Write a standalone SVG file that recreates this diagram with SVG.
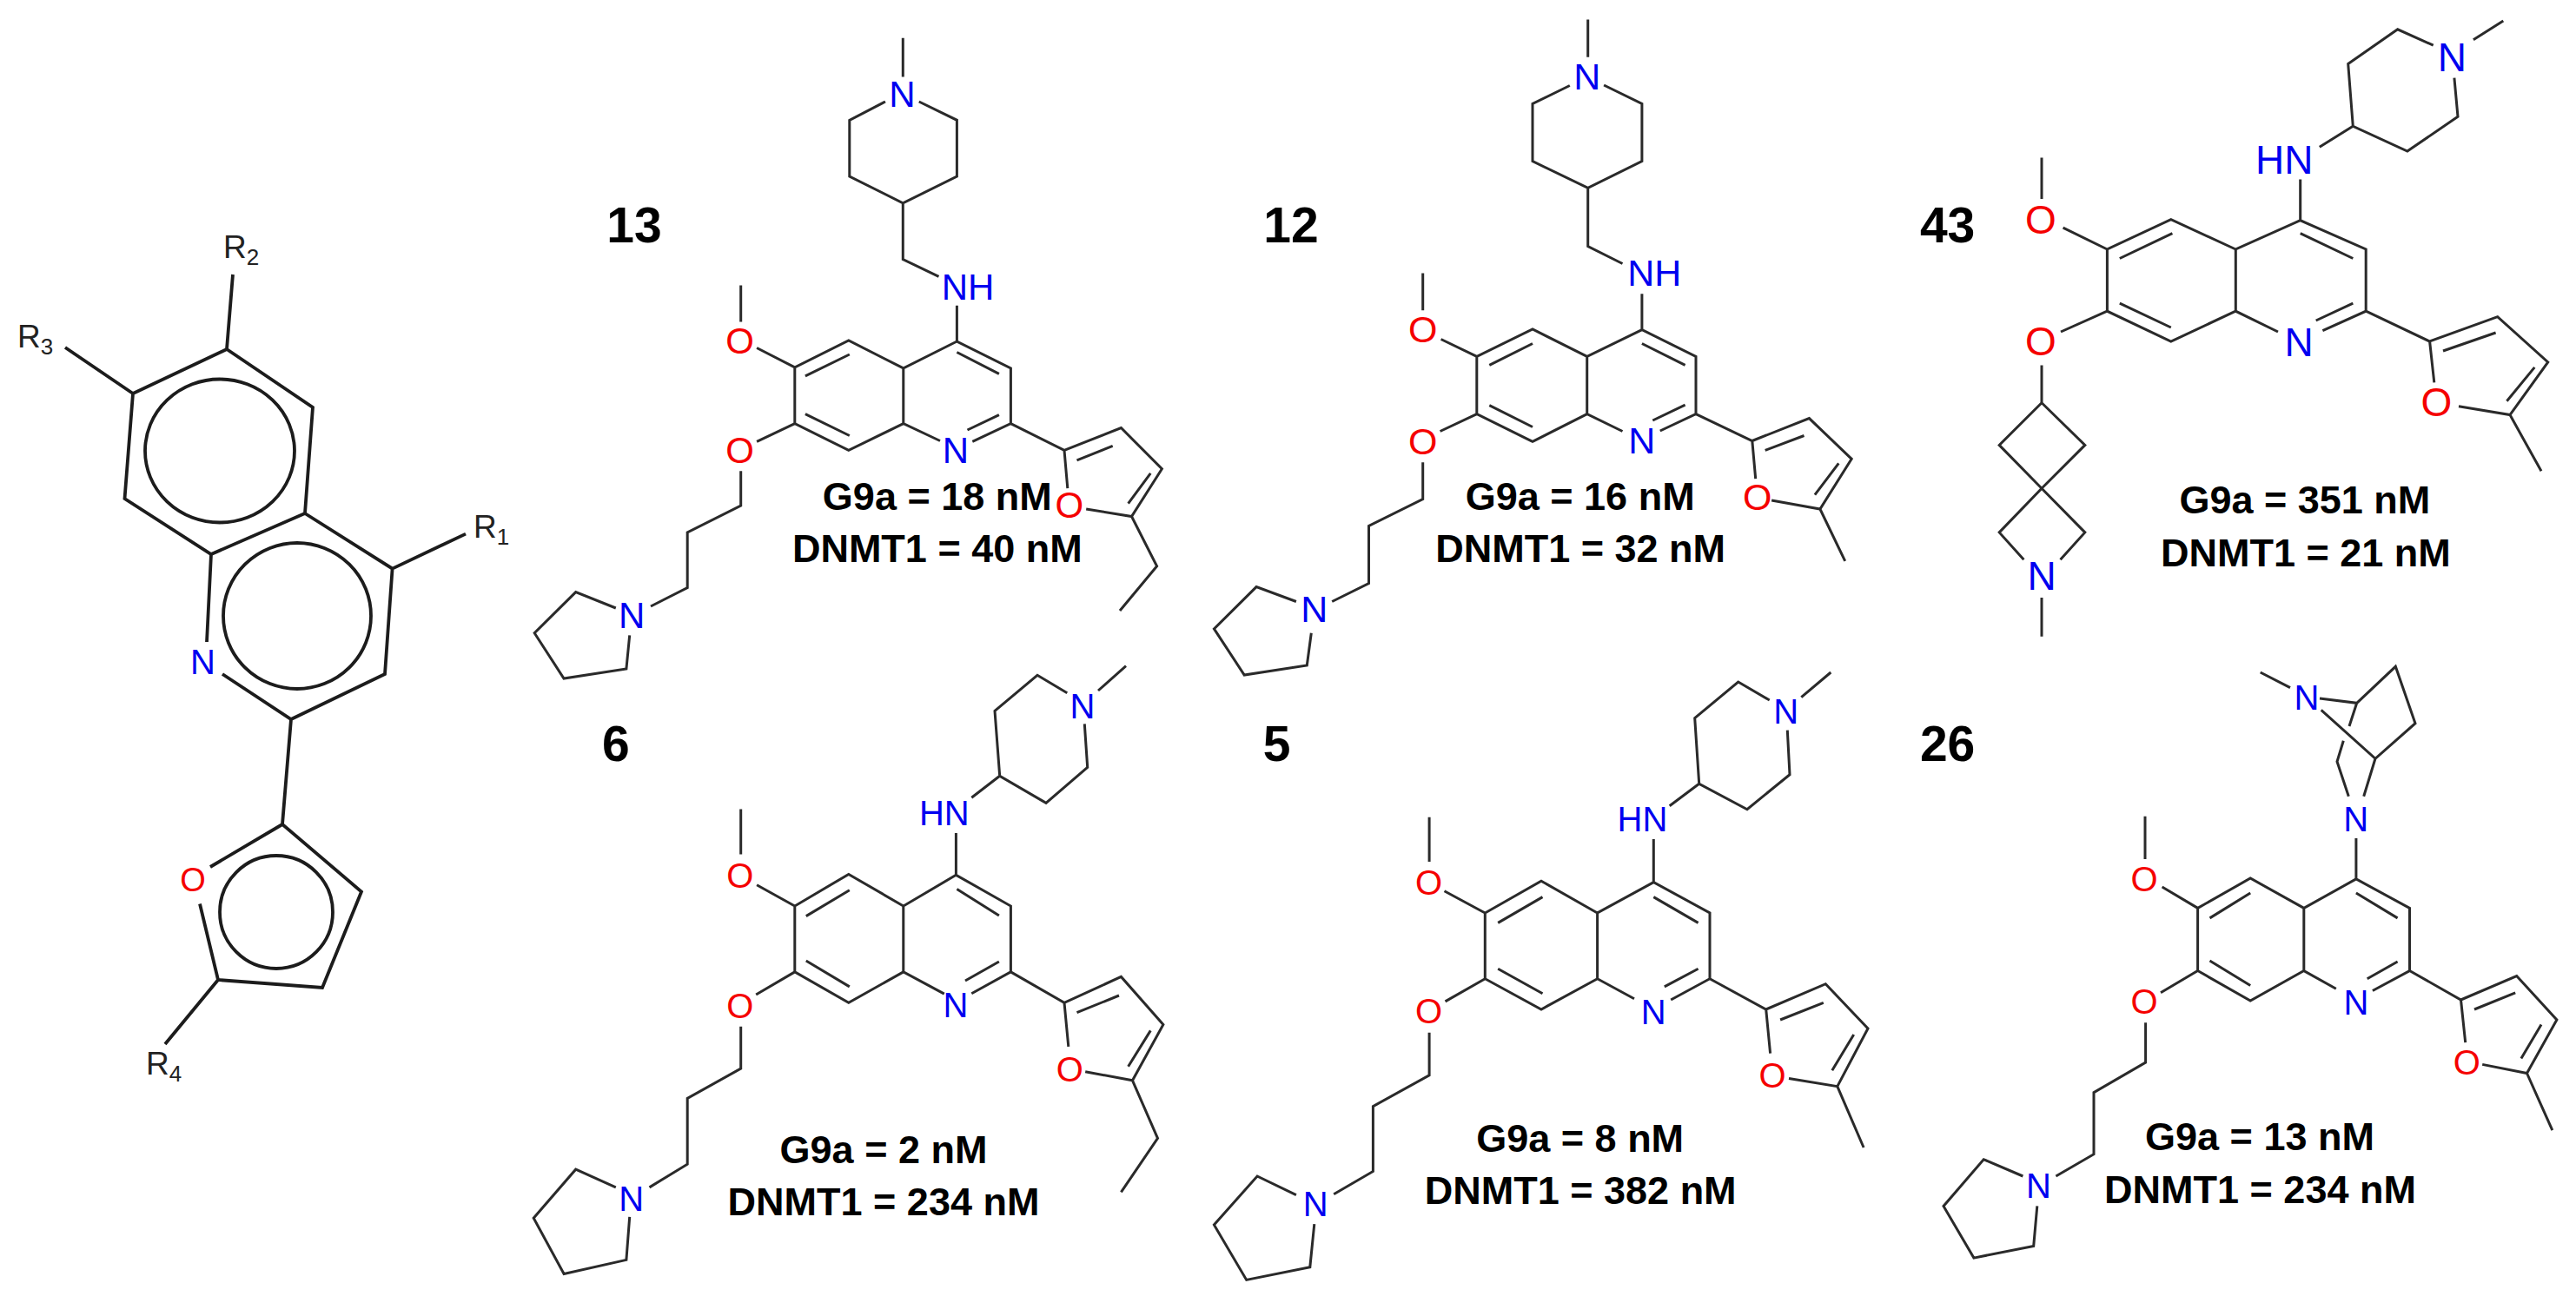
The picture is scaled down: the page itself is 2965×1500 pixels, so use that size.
<svg xmlns="http://www.w3.org/2000/svg" width="2965" height="1500" viewBox="0 0 2965 1500">
<style>
text{font-family:"Liberation Sans",Arial,sans-serif}
.bond{fill:none;stroke:#2a2a2a;stroke-width:3;stroke-linecap:butt;stroke-linejoin:miter}
.scaffold{stroke:#1c1c1c;stroke-width:3.8}
.a{text-anchor:middle}
.n{fill:#0000f0}
.o{fill:#f50000}
.r{fill:#222;font-size:37px}
.r tspan{font-size:26px}
.v{font-size:45px;font-weight:bold;text-anchor:middle;fill:#000}
.id{font-size:57px;font-weight:bold;text-anchor:middle;fill:#000}
</style>
<rect width="2965" height="1500" fill="#fff"/>

<g id="scaffold">
<path class="bond scaffold" d="M268 316L261 402M75 400L153 453M261 402L360 469L351 591L243 638L143.5 574L153 453L261 402M351 591L451.6 654.6L443 776L335 828L256 776M243 638L238 739M451.6 654.6L536 614.6M335 828L325 949L416 1026.500L371 1137L251 1128L230 1040.500M325 949L242 998M251 1128L190 1202"/>
<ellipse class="bond scaffold" cx="253" cy="519" rx="86" ry="82.500"/>
<ellipse class="bond scaffold" cx="342" cy="709" rx="85" ry="84"/>
<ellipse class="bond scaffold" cx="318" cy="1050" rx="65" ry="65"/>
<text class="a n" x="233.500" y="776" font-size="40">N</text>
<text class="a o" x="222" y="1026" font-size="38">O</text>
<text class="r" x="257" y="297">R<tspan dy="8">2</tspan></text>
<text class="r" x="20" y="400">R<tspan dy="8">3</tspan></text>
<text class="r" x="545" y="619">R<tspan dy="8">1</tspan></text>
<text class="r" x="168" y="1237">R<tspan dy="8">4</tspan></text>
</g>

<g id="compound-13" font-size="42">
<path class="bond" d="M1039.300 43.800V88.600M1019 117L977.800 138.300V203L1039.300 233.800L1101.400 203V138.300L1057.800 117M1039.300 233.800V298.500L1080.500 318.400M1101.400 351.700V393L1163.400 423.900V487.600L1119.300 508.400M1082 507.500L1039.800 487.600V423.900L1101.400 393M1039.800 423.900L976.800 392L914.800 422.900V487.600L976.800 518.400L1039.800 487.600M1101.400 405.500L1149.900 430.300M1149.900 477.600L1113.500 495M977.800 408L926.900 432.800M926.900 476.600L977.800 501.500M852.700 328.400V370.600M871.100 400.500L914.800 422.900M871.100 508.400L914.800 487.600M852.700 542.300V582L791.200 612.900V676.600L749 698M708.800 700L662.700 681.600L615.200 728.800L649 781L720.900 770L724.700 731.300M1163.400 487.600L1225 518.400L1290.400 492.500L1337.400 539.800L1302.500 594.500L1250.200 586M1225 518.400L1228.800 562.200M1239.500 529.800L1280.700 513.400M1324.300 544.800L1298.600 579.600M1302.500 594.500L1331.600 651.700L1289 703"/>
<text class="a n" x="1038.400" y="123.400">N</text>
<text class="a n" x="1114" y="344.800">NH</text>
<text class="a n" x="1100" y="533">N</text>
<text class="a o" x="851.700" y="407">O</text>
<text class="a o" x="851.700" y="533">O</text>
<text class="a n" x="727.200" y="722.900">N</text>
<text class="a o" x="1230.800" y="596">O</text>
<text class="id" x="730" y="279">13</text>
<text class="v" x="1078.800" y="587">G9a = 18 nM</text>
<text class="v" x="1078.800" y="646.800">DNMT1 = 40 nM</text>
</g>

<g id="compound-12" font-size="43">
<path class="bond" d="M1827.700 22.400V65.700M1806.800 98.500L1764 119.400V185.600L1827.700 216.400L1889.900 185.600V119.400L1846.100 98M1827.700 216.400V283.600L1867.500 303.500M1889.900 338.300V379.600L1952 410.400V476.600L1910.800 496M1867.500 496.500L1826.700 476.600V410.400L1889.900 379.600M1826.700 410.400L1764 379L1699.800 410.400V476.600L1764 508.400L1826.700 476.600M1889.900 395.500L1939.600 420.400M1939.600 466.200L1902.300 484M1764 395.500L1714.300 420.400M1714.300 466.700L1764 491.500M1637.700 314.400V357.200M1658.600 390.500L1699.800 410.400M1657.600 496.500L1699.800 476.600M1637.700 532.300V574.600L1575.500 605.500V671.600L1533.200 692.500M1491.900 692.500L1446.100 675.600L1397.400 723.900L1432.200 777L1504.300 766L1509.300 728.800M1952 476.600L2016.800 507.500L2082.400 481.600L2131.200 528.300L2094.900 586L2039.100 576M2016.800 507.500L2020.700 551.200M2031.700 518.400L2076.500 501.500M2116.300 533.300L2088.900 569.600M2094.900 586L2123.700 645.800"/>
<text class="a n" x="1826.700" y="103">N</text>
<text class="a n" x="1904.300" y="329.300">NH</text>
<text class="a n" x="1889.900" y="522.400">N</text>
<text class="a o" x="1637.700" y="394">O</text>
<text class="a o" x="1637.700" y="523.400">O</text>
<text class="a n" x="1512.800" y="716.400">N</text>
<text class="a o" x="2022.700" y="587">O</text>
<text class="id" x="1486" y="279">12</text>
<text class="v" x="1818.700" y="587">G9a = 16 nM</text>
<text class="v" x="1819.200" y="646.800">DNMT1 = 32 nM</text>
</g>

<g id="compound-43" font-size="46">
<path class="bond" d="M2881.300 23.900L2846.900 45.800M2800.700 52.200L2759.700 33.800L2702.700 73.600L2708.300 145.300L2770.900 174.100L2829 134.300L2824.900 89.600M2708.300 145.300L2669.800 169.200M2647.700 206.500V253.700L2723.200 287V358.200L2673.400 380.600M2622 382L2573.300 358.200V287L2647.700 253.700M2573.300 287L2498.800 252.700L2425.400 287V358.200L2498.800 393L2573.300 358.200M2647.700 268.700L2708.300 297.500M2708.300 349.200L2665.700 369M2500.400 268.700L2439.800 297.500M2439.800 349.200L2498.800 377M2350 181.600V228.900M2374.600 262.200L2425.400 287M2372 382L2425.400 358.200M2350 420.400V463.700L2399.800 512.400L2350 562.200L2301.200 512.400L2350 463.700M2350 562.200L2399.800 612.900L2371.500 644.300M2350 562.200L2301.200 612.900L2329.400 644.300M2350 688V732.800M2723.200 358.200L2796.600 393L2874.700 364.700L2932.700 416.900L2889 477.600L2830 467.700M2796.600 393L2801.800 440.300M2812 404L2872.600 383M2917.300 422.900L2885.400 461.700M2889 477.600L2925 542.300"/>
<text class="a n" x="2822.300" y="82">N</text>
<text class="a n" x="2629.300" y="200">HN</text>
<text class="a n" x="2646.200" y="410.400">N</text>
<text class="a o" x="2349" y="268.700">O</text>
<text class="a o" x="2349" y="409.400">O</text>
<text class="a n" x="2350" y="679">N</text>
<text class="a o" x="2804.300" y="478.600">O</text>
<text class="id" x="2241.600" y="279">43</text>
<text class="v" x="2652.900" y="591">G9a = 351 nM</text>
<text class="v" x="2653.900" y="651.700">DNMT1 = 21 nM</text>
</g>

<g id="compound-6" font-size="40">
<path class="bond" d="M1296 766.700L1264 795M1228.300 797.700L1194 777.300L1145 818.300L1150.700 893.300L1204 924.300L1251.700 883.300L1248.300 833.300M1150.700 893.300L1118.300 918.300M1100.400 959V1007.300L1163.400 1043V1118.900L1118.300 1143.700M1086.800 1144.100L1039.800 1118.900V1043L1100.400 1007.300M1039.800 1043L976.800 1006.400L914.800 1043V1118.900L976.800 1154.300L1039.800 1118.900M1101.400 1023.400L1149.900 1054.100M1149.900 1107L1111 1129M977.800 1024.800L927.800 1054.600M927.800 1106L977.800 1135.900M852.700 931.500V983.400M871.100 1018.800L914.800 1043M870.200 1145L914.800 1118.900M852.700 1181.800V1230L791.200 1264.400V1340.200L747.500 1366.900M708.800 1366.900L662.700 1346.200L614.200 1402.200L649.100 1466.500L720.900 1450.400L724.700 1400.800M1163.400 1118.900L1225 1154.300L1290.400 1124.400L1338.900 1179.500L1303.500 1243.800L1249.200 1233.700M1225 1154.300L1229.800 1204.800M1239.500 1165.700L1288 1146M1324.300 1186.400L1298.600 1227.700M1303.500 1243.800L1332.500 1310.400L1290.400 1372.400"/>
<text class="a n" x="1246" y="826.700">N</text>
<text class="a n" x="1086.800" y="950">HN</text>
<text class="a n" x="1099.900" y="1171.200">N</text>
<text class="a o" x="851.700" y="1022">O</text>
<text class="a o" x="851.700" y="1171.700">O</text>
<text class="a n" x="726.700" y="1394">N</text>
<text class="a o" x="1231.300" y="1244.700">O</text>
<text class="id" x="708.800" y="876.400">6</text>
<text class="v" x="1017" y="1338.800">G9a = 2 nM</text>
<text class="v" x="1017" y="1398.600">DNMT1 = 234 nM</text>
</g>

<g id="compound-5" font-size="40">
<path class="bond" d="M2107.300 774L2073.300 802.700M2036.700 806L2000.700 785L1950.700 826.700L1955.700 902.300L2011 931.700L2060 891.700L2057.300 840.700M1955.700 902.300L1921.700 927.700M1903.300 966V1015.600L1968 1051V1126.700L1923.200 1151M1881 1149.700L1838.600 1126.700V1051L1903.300 1015.600M1838.600 1051L1774 1014.200L1709.300 1051V1126.700L1774 1162L1838.600 1126.700M1903.300 1032.600L1954.600 1062.400M1954.600 1115.200L1915.800 1135.900M1775.500 1032.600L1724.200 1062.400M1724.200 1115.200L1775.500 1143.700M1645.100 940.700V992.100M1662.500 1025.700L1709.300 1051M1663.500 1152.900L1709.300 1126.700M1645.100 1188.700V1237.800L1580.400 1273.600V1348.500L1535.200 1374.700M1491.900 1375.600L1447.100 1354L1397.400 1410L1434.700 1473.400L1507.800 1458.700L1512.800 1409.100M1968 1126.700L2032.700 1162L2101.300 1132.700L2150 1184L2114.800 1250.700L2059 1241.500M2032.700 1162L2037.600 1212.600M2049.100 1174L2098.800 1154.300M2133.700 1191L2108.800 1232.300M2114.800 1250.700L2145.100 1321"/>
<text class="a n" x="2055.700" y="833.300">N</text>
<text class="a n" x="1890.400" y="956.700">HN</text>
<text class="a n" x="1903.300" y="1178.600">N</text>
<text class="a o" x="1644.600" y="1030.300">O</text>
<text class="a o" x="1644.600" y="1178.100">O</text>
<text class="a n" x="1514.300" y="1399.900">N</text>
<text class="a o" x="2040.100" y="1251.600">O</text>
<text class="id" x="1469.500" y="876.400">5</text>
<text class="v" x="1818.700" y="1326.400">G9a = 8 nM</text>
<text class="v" x="1819.200" y="1386.100">DNMT1 = 382 nM</text>
</g>

<g id="compound-26" font-size="40">
<path class="bond" d="M2601.700 774L2636 791.700M2670 804L2712.700 809.300L2757.300 767.300L2780 832.700L2734 873.300L2671.700 817.300M2712.700 809.300L2704 836M2697.300 852.700L2690 876.700L2703.300 916.700M2734 873.300L2720.700 916.700M2711.900 965V1011.900L2773.500 1045.400V1117.500L2730.900 1140.500M2688.800 1138.200L2651.800 1117.500V1045.400L2711.900 1011.900M2651.800 1045.400L2590.200 1011L2529.600 1045.400V1117.500L2590.200 1152L2651.800 1117.500M2711.900 1028L2759.600 1056.900M2759.600 1107L2724.700 1126.700M2590.200 1028L2543.500 1056.900M2543.500 1106L2590.200 1134.500M2469 939.800V989M2488.600 1021L2529.600 1045.400M2487 1142.800L2529.600 1117.500M2469.600 1177.200V1223.100L2410 1257.600V1328.700L2366.400 1354M2328.400 1354L2283.200 1334.700L2237 1388.400L2271.900 1448.100L2340.700 1434.400L2344.800 1388.400M2773.500 1117.500L2832.500 1151L2896.700 1123.500L2942.900 1174L2908.500 1235.500L2857.200 1225.400M2832.500 1151L2837.700 1200.200M2848 1162L2895.200 1142.800M2925 1179.500L2901.900 1218.500M2908.500 1235.500L2937.800 1301.200"/>
<text class="a n" x="2655" y="817.300">N</text>
<text class="a n" x="2711.700" y="956.700">N</text>
<text class="a n" x="2711.900" y="1168">N</text>
<text class="a o" x="2468" y="1025.700">O</text>
<text class="a o" x="2468" y="1166.600">O</text>
<text class="a n" x="2346.400" y="1379.300">N</text>
<text class="a o" x="2839.200" y="1236.900">O</text>
<text class="id" x="2241.600" y="876.400">26</text>
<text class="v" x="2601" y="1324.200">G9a = 13 nM</text>
<text class="v" x="2601.500" y="1384.800">DNMT1 = 234 nM</text>
</g>
</svg>
